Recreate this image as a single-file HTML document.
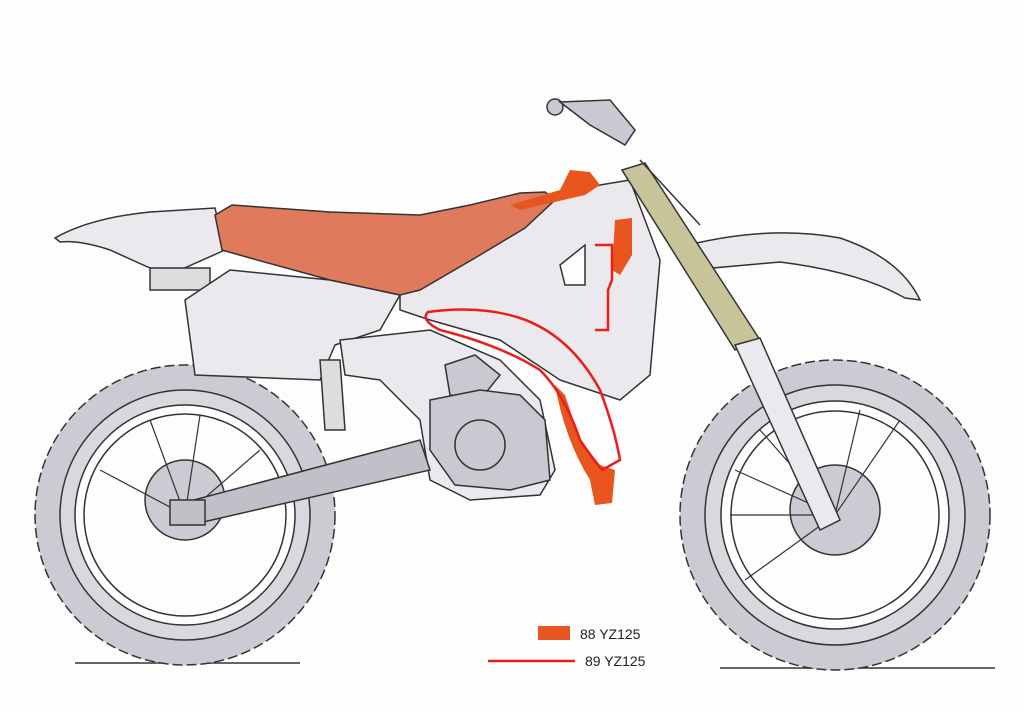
<!DOCTYPE html>
<html><head><meta charset="utf-8"><style>
html,body{margin:0;padding:0;background:#fdfdfd;}
svg{display:block}
</style></head><body>
<svg width="1024" height="711" viewBox="0 0 1024 711" xmlns="http://www.w3.org/2000/svg">
<rect width="1024" height="711" fill="#fdfdfd"/>
<line x1="75" y1="663" x2="300" y2="663" stroke="#333" stroke-width="1.5"/>
<line x1="720" y1="668" x2="995" y2="668" stroke="#333" stroke-width="1.5"/>
<!-- rear wheel -->
<g stroke="#333" stroke-width="1.5">
<circle cx="185" cy="515" r="150" fill="#cbcbd3" stroke-dasharray="10 4"/>
<circle cx="185" cy="515" r="125" fill="#d8d8de"/>
<circle cx="185" cy="515" r="110" fill="#fdfdfd"/>
<circle cx="185" cy="515" r="101" fill="#fdfdfd"/>
<circle cx="185" cy="500" r="40" fill="#cbcbd3"/>
</g>
<!-- front wheel -->
<g stroke="#333" stroke-width="1.5">
<circle cx="835" cy="515" r="155" fill="#cbcbd3" stroke-dasharray="10 4"/>
<circle cx="835" cy="515" r="130" fill="#d8d8de"/>
<circle cx="835" cy="515" r="114" fill="#fdfdfd"/>
<circle cx="835" cy="515" r="104" fill="#fdfdfd"/>
<circle cx="835" cy="510" r="45" fill="#cbcbd3"/>
</g>
<g stroke="#333" stroke-width="1.2">
<line x1="835" y1="515" x2="760" y2="430"/><line x1="835" y1="515" x2="735" y2="470"/><line x1="835" y1="515" x2="730" y2="515"/><line x1="835" y1="515" x2="745" y2="580"/><line x1="835" y1="515" x2="860" y2="410"/><line x1="835" y1="515" x2="900" y2="420"/>
<line x1="185" y1="515" x2="150" y2="420"/><line x1="185" y1="515" x2="200" y2="415"/><line x1="185" y1="515" x2="100" y2="470"/><line x1="185" y1="515" x2="260" y2="450"/>
</g>
<!-- rear fender -->
<path d="M55,238 Q90,218 150,212 L215,208 L225,250 L180,270 L150,268 L110,250 Q80,240 60,242 Z" fill="#ebe9ed" stroke="#333" stroke-width="1.5"/>
<rect x="150" y="268" width="60" height="22" fill="#ddd" stroke="#333" stroke-width="1.5"/>
<!-- side panel -->
<path d="M185,300 L230,270 L330,280 L400,295 L380,330 L335,345 L320,380 L195,375 Z" fill="#ebe9ed" stroke="#333" stroke-width="1.5"/>
<!-- front fender -->
<path d="M688,245 Q770,225 840,238 Q900,258 920,300 L905,298 Q860,272 780,262 L690,270 Z" fill="#ebe9ed" stroke="#333" stroke-width="1.5"/>
<!-- tank / shroud area -->
<path d="M400,295 L470,260 L520,230 L545,200 L600,185 L630,180 L660,260 L650,375 L620,400 L560,380 L500,340 L430,320 L400,310 Z" fill="#ebe9ed" stroke="#333" stroke-width="1.5"/>
<path d="M560,265 L585,245 L585,285 L565,285 Z" fill="#fdfdfd" stroke="#333" stroke-width="1.5"/>
<!-- frame / engine -->
<path d="M340,340 L430,330 L500,360 L540,400 L555,470 L540,495 L470,500 L430,480 L420,420 L380,380 L345,375 Z" fill="#ebe9ed" stroke="#333" stroke-width="1.5"/>
<path d="M445,365 L475,355 L500,375 L480,400 L450,395 Z" fill="#c9c9d2" stroke="#333" stroke-width="1.5"/>
<path d="M430,400 L480,390 L520,395 L545,420 L550,480 L510,490 L455,485 L430,450 Z" fill="#c9c9d2" stroke="#333" stroke-width="1.5"/>
<circle cx="480" cy="445" r="25" fill="#c9c9d2" stroke="#333" stroke-width="1.5"/>
<!-- swingarm -->
<path d="M175,505 L420,440 L430,470 L190,525 Z" fill="#c0c0c8" stroke="#333" stroke-width="1.5"/>
<rect x="170" y="500" width="35" height="25" fill="#c0c0c8" stroke="#333" stroke-width="1.5"/>
<path d="M320,360 L340,360 L345,430 L325,430 Z" fill="#ddd" stroke="#333" stroke-width="1.5"/>
<!-- seat -->
<path d="M215,215 L232,205 L330,212 L420,215 L470,205 L520,193 L545,192 L555,200 L525,228 L475,258 L420,290 L400,295 L330,280 L250,258 L222,250 Z" fill="#e07a5c" stroke="#333" stroke-width="1.5"/>
<!-- 88 parts -->
<path d="M555,385 Q565,440 590,480 L595,505 L612,503 L615,470 L600,465 L580,440 L565,395 Z" fill="#e8551f"/>
<path d="M510,205 L560,190 L570,170 L590,172 L600,185 L585,195 L520,210 Z" fill="#e8551f"/>
<path d="M615,220 L632,218 L632,255 L620,275 L612,270 Z" fill="#e8551f"/>
<!-- 89 outline -->
<path d="M428,312 Q480,305 520,318 Q570,335 600,390 Q615,430 620,460 L602,470 Q590,455 580,440 Q565,395 540,370 Q500,345 440,330 Q420,320 428,312 Z" fill="none" stroke="#e8201a" stroke-width="2.5"/>
<path d="M595,245 L612,245 L612,280 L608,290 L608,330 L595,330" fill="none" stroke="#e8201a" stroke-width="2.5"/>
<!-- fork -->
<path d="M622,170 L645,163 L760,340 L735,350 Z" fill="#c8c49a" stroke="#333" stroke-width="1.5"/>
<path d="M735,345 L760,338 L840,520 L820,530 Z" fill="#ebe9ed" stroke="#333" stroke-width="1.5"/>
<path d="M640,160 L700,225" stroke="#333" stroke-width="1.5"/>
<circle cx="555" cy="107" r="8" fill="#c9c9d2" stroke="#333" stroke-width="1.5"/>
<path d="M560,102 L610,100 L635,130 L625,145 L590,125 Z" fill="#c9c9d2" stroke="#333" stroke-width="1.5"/>
<!-- legend -->
<rect x="538" y="626" width="32" height="14" fill="#e8551f"/>
<text x="580" y="639" font-family="Liberation Sans, sans-serif" font-size="14" fill="#222">88 YZ125</text>
<line x1="488" y1="661" x2="575" y2="661" stroke="#e8201a" stroke-width="2.5"/>
<text x="585" y="666" font-family="Liberation Sans, sans-serif" font-size="14" fill="#222">89 YZ125</text>
</svg>
</body></html>
